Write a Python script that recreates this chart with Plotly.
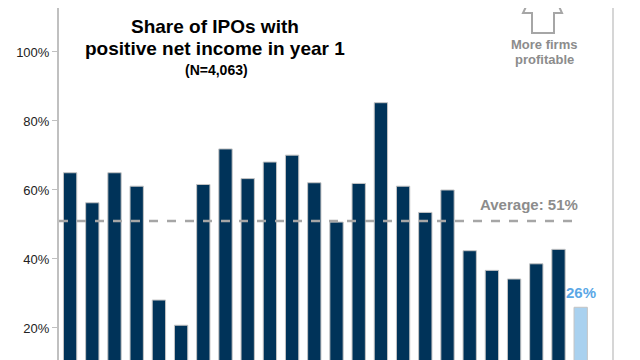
import plotly.graph_objects as go

# Data
categories = [str(i) for i in range(1, 25)]
shares = [65, 56.3, 65, 61.1, 28.1, 20.8, 61.6, 71.9, 63.3, 68.1, 70.1, 62.1,
          50.7, 61.9, 85.3, 61.1, 53.5, 60, 42.4, 36.7, 34.2, 38.6, 42.8, 26]
average = 51
tick_vals = [20, 40, 60, 80, 100]
tick_text = ["20%", "40%", "60%", "80%", "100%"]

navy = "#003359"
light = "#a9d1ef"
colors = [navy] * (len(shares) - 1) + [light]

# page has an 8px body margin
OFF = 8
W, H = 640 - OFF, 360 - OFF
PL, PR, PT, PB = 59, 614, OFF, 360  # plot area in page pixels


def px(x):
    return (x - PL) / (PR - PL)


def py(y):
    return 1 - (y - PT) / (PB - PT)


fig = go.Figure()
fig.add_trace(go.Bar(
    x=list(range(len(shares))), y=shares,
    marker=dict(color=colors, line=dict(color="#c4c4c4", width=1)),
    width=0.6, hoverinfo="skip",
))

fig.update_layout(
    width=W, height=H,
    margin=dict(l=PL - OFF, r=W - (PR - OFF), t=0, b=0, autoexpand=False),
    plot_bgcolor="white", paper_bgcolor="white",
    showlegend=False,
    font=dict(family="Liberation Sans, Arial, sans-serif", color="#222"),
    xaxis=dict(range=[-0.5, 24.5], showticklabels=False, showgrid=False,
               zeroline=False, showline=False, ticks=""),
    yaxis=dict(range=[10.72, 112.75], tickvals=tick_vals, ticktext=tick_text,
               showgrid=False, zeroline=False, showline=True,
               linecolor="#c0c0c0", linewidth=2, ticks="outside",
               ticklen=5, tickcolor="#c0c0c0", tickwidth=1,
               tickfont=dict(size=13, color="#222")),
)

# average line
fig.add_shape(type="line", xref="x", yref="y", x0=-0.5, x1=22.9,
              y0=average, y1=average,
              line=dict(color="#a6a6a6", width=2.5, dash="dash"))
fig.add_annotation(x=22.97, y=average, xref="x", yref="y", xanchor="right",
                   yanchor="bottom", yshift=6, showarrow=False,
                   text=f"<b>Average: {average}%</b>",
                   font=dict(size=15, color="#8c8c8c"))
# last bar label
fig.add_annotation(x=len(shares) - 1, y=shares[-1], xref="x", yref="y",
                   xanchor="center", yanchor="bottom", yshift=4, showarrow=False,
                   text=f"<b>{shares[-1]:.0f}%</b>",
                   font=dict(size=15, color="#5aa7e6"))

# right divider
fig.add_shape(type="line", xref="paper", yref="paper", x0=px(613), x1=px(613),
              y0=0, y1=1, line=dict(color="#c8c8c8", width=1.5))


def label(text, x, y, size, color):
    fig.add_annotation(x=px(x), y=py(y), xref="paper", yref="paper",
                       xanchor="center", yanchor="middle", showarrow=False,
                       text=text, font=dict(size=size, color=color))


# title
label("<b>Share of IPOs with</b>", 215, 27, 19, "black")
label("<b>positive net income in year 1</b>", 215, 49, 19, "black")
label("<b>(N=4,063)</b>", 216, 70, 14, "black")

# hollow up arrow (tip is above the visible area)
pts = [(543, -29), (562, 13), (554, 13), (554, 33), (532, 33), (532, 13), (523, 13)]
path = "M " + " L ".join(f"{px(x)},{py(y)}" for x, y in pts) + " Z"
fig.add_shape(type="path", xref="paper", yref="paper", path=path,
              line=dict(color="#a6a6a6", width=2), fillcolor="white")
label("<b>More firms</b>", 544, 44, 13, "#8c8c8c")
label("<b>profitable</b>", 544, 59, 13, "#8c8c8c")

fig.write_html("out.html")
